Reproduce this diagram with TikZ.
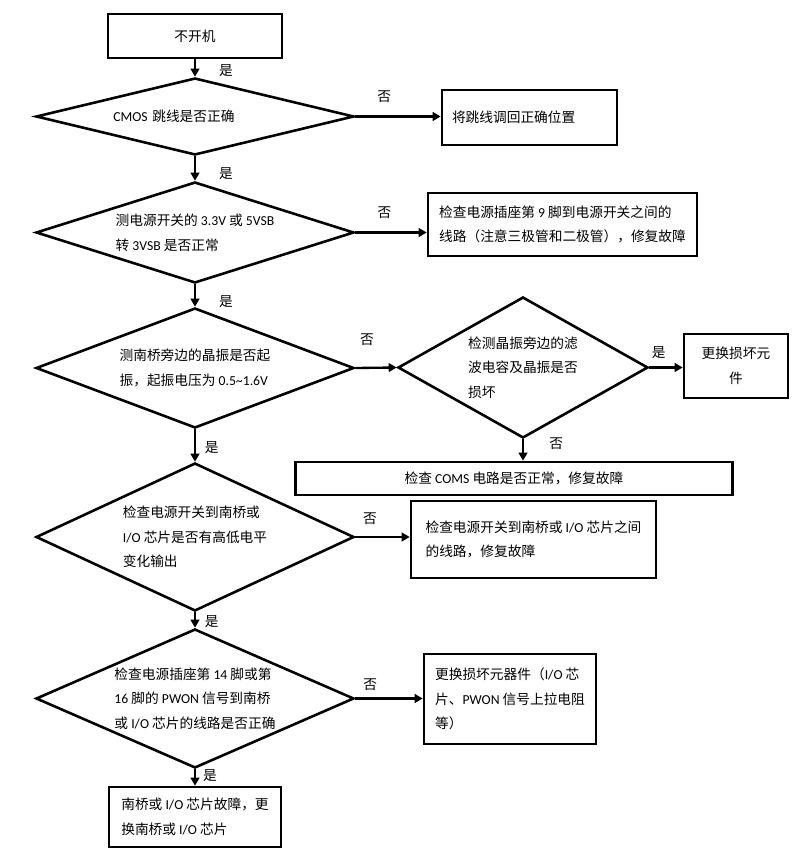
\documentclass[tikz,border=0pt]{standalone}
\usepackage{fontspec}
\setmainfont{Noto Sans CJK SC}
\newfontfamily\latf{Carlito}
\newcommand{\en}[1]{{\latf #1}}
\usetikzlibrary{arrows.meta, positioning, shapes.geometric}

\begin{document}
\begin{tikzpicture}[
    x=0.03cm, y=-0.03cm,
    every node/.style={font=\fontsize{11.7}{21}\selectfont},
    box/.style={draw, line width=2.2pt, align=left, inner sep=0.3cm},
    dec/.style={draw, diamond, line width=2.2pt, align=left, inner sep=0pt,
                minimum width=9.54cm},
    lbl/.style={inner sep=0pt},
    arr/.style={-{Triangle[length=2.4mm,width=2.6mm]}, line width=2pt},
]
\useasboundingbox (0,0) rectangle (800,865);
% main column
\node[box, minimum width=5.22cm, minimum height=1.32cm, align=center] (start) at (195,36) {不开机};
\node[dec, minimum height=2.31cm, shape aspect=4.1, text width=4.9cm] (cmos) at (195,116.5) {\en{CMOS} 跳线是否正确};
\node[dec, minimum height=3.03cm, shape aspect=3.15] (psw) at (195,232.5) {测电源开关的 \en{3.3V} 或 \en{5VSB}\\转 \en{3VSB} 是否正常};
\node[dec, minimum height=3.6cm, shape aspect=2.65] (osc) at (195,368) {测南桥旁边的晶振是否起\\振，起振电压为 \en{0.5\textasciitilde1.6V}};
\node[dec, minimum height=4.44cm, shape aspect=2.15] (sig) at (195,537) {检查电源开关到南桥或\\\en{I/O} 芯片是否有高低电平\\变化输出};
\node[dec, minimum height=4.17cm, shape aspect=2.29] (pwon) at (195,698.5) {检查电源插座第 \en{14} 脚或第\\\en{16} 脚的 \en{PWON} 信号到南桥\\或 \en{I/O} 芯片的线路是否正确};
\node[box, minimum width=5.16cm, minimum height=1.8cm] (sbio) at (195,817) {南桥或 \en{I/O} 芯片故障，更\\换南桥或 \en{I/O} 芯片};
% right side
\node[box, minimum width=5.25cm, minimum height=1.65cm, text width=4.65cm] (fixjmp) at (529.5,117.5) {将跳线调回正确位置};
\node[box, minimum width=8.07cm, minimum height=1.89cm] (fixpin) at (562.5,224.5) {检查电源插座第 \en{9} 脚到电源开关之间的\\线路（注意三极管和二极管），修复故障};
\node[dec, minimum width=7.5cm, minimum height=4.23cm, shape aspect=1.77] (cap) at (523,367.5) {检测晶振旁边的滤\\波电容及晶振是否\\损坏};
\node[box, minimum width=3.12cm, minimum height=1.92cm, align=center] (rep) at (736,366) {更换损坏元\\件};
\node[box, minimum width=13.11cm, minimum height=0.99cm, inner sep=2pt, align=center] (coms) at (514,478.5) {检查 \en{COMS} 电路是否正常，修复故障};
\node[box, minimum width=7.35cm, minimum height=2.31cm] (fixline) at (533.5,539.5) {检查电源开关到南桥或 \en{I/O} 芯片之间\\的线路，修复故障};
\node[box, minimum width=5.16cm, minimum height=2.7cm] (fixpart) at (510,699) {更换损坏元器件（\en{I/O} 芯\\片、\en{PWON} 信号上拉电阻\\等）};
% yes arrows
\draw[arr] (start) -- node[lbl, pos=.65, xshift=0.93cm] {是} (cmos);
\draw[arr] (cmos) -- node[lbl, pos=.7, xshift=0.93cm] {是} (psw);
\draw[arr] (psw) -- node[lbl, pos=.76, xshift=0.93cm] {是} (osc);
\draw[arr] (osc) -- node[lbl, pos=.57, xshift=0.5cm] {是} (sig);
\draw[arr] (sig) -- node[lbl, pos=.63, xshift=0.5cm] {是} (pwon);
\draw[arr] (pwon) -- node[lbl, pos=.37, xshift=0.45cm] {是} (sbio);
\draw[arr] (cap.east) -- node[lbl, pos=.28, yshift=0.45cm] {是} (cap.east -| rep.west);
% no arrows
\draw[arr] (cmos.east) -- node[lbl, pos=.34, yshift=0.6cm] {否} (cmos.east -| fixjmp.west);
\draw[arr] (psw.east) -- node[lbl, pos=.41, yshift=0.6cm] {否} (psw.east -| fixpin.west);
\draw[arr] (osc.east) -- node[lbl, pos=.28, yshift=0.84cm] {否} (cap.west);
\draw[arr] (cap.south) -- node[lbl, pos=.2, xshift=1cm] {否} (cap.south |- coms.north);
\draw[arr] (sig.east) -- node[lbl, pos=.27, yshift=0.54cm] {否} (sig.east -| fixline.west);
\draw[arr] (pwon.east) -- node[lbl, pos=.22, yshift=0.4cm] {否} (pwon.east -| fixpart.west);
\end{tikzpicture}
\end{document}
